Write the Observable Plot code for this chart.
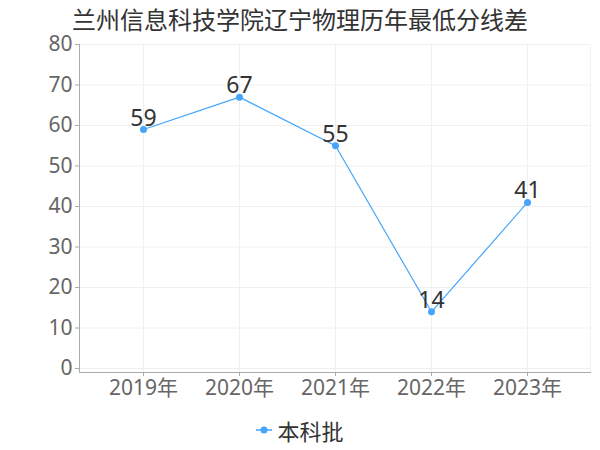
<!DOCTYPE html>
<html><head><meta charset="utf-8">
<script src="https://cdn.jsdelivr.net/npm/d3@7"></script>
<script src="https://cdn.jsdelivr.net/npm/@observablehq/plot@0.6"></script>
<style>
body{margin:0;background:#fff;font-family:"Noto Sans","Noto Sans CJK SC",sans-serif;}
#title{height:30px;line-height:40px;padding-left:72px;font-size:24px;color:#333;white-space:nowrap;}
#legend{height:40px;display:flex;justify-content:center;align-items:center;font-size:22px;color:#333;}
#legend svg{margin-right:5px;}
</style></head><body>
<div id="title">兰州信息科技学院辽宁物理历年最低分线差</div>
<div id="chart"></div>
<div id="legend"></div>
<script>
const years = ["2019年","2020年","2021年","2022年","2023年"];
const scores = [59, 67, 55, 14, 41];
const seriesName = "本科批";
const yTicks = [0,10,20,30,40,50,60,70,80];
const color = "#45a5fa";

const data = years.map((y,i)=>({year:y, value:scores[i]}));

const plot = Plot.plot({
  width: 600, height: 380,
  marginLeft: 79, marginRight: 10, marginTop: 14, marginBottom: 38,
  style:{fontFamily:'"Noto Sans","Noto Sans CJK SC",sans-serif', background:"#fff", overflow:"visible"},
  x:{type:"point", domain:years, padding:0.648, label:null},
  y:{domain:[0,80], insetBottom:4, label:null},
  marks:[
    Plot.frame({stroke:"#f2f2f2"}),
    Plot.gridY(yTicks, {stroke:"#f0f0f0", strokeOpacity:1}),
    Plot.gridX(years, {stroke:"#f0f0f0", strokeOpacity:1}),
    Plot.frame({anchor:"left", stroke:"#aaa"}),
    Plot.frame({anchor:"bottom", stroke:"#aaa"}),
    Plot.axisY(yTicks, {tickSize:4, tickPadding:3, fontSize:21, color:"#666", stroke:"#aaa"}),
    Plot.axisX(years, {tickSize:4, tickPadding:4, fontSize:21, color:"#666", stroke:"#aaa"}),
    Plot.line(data, {x:"year", y:"value", stroke:color, strokeWidth:1.2}),
    Plot.dot(data, {x:"year", y:"value", fill:color, r:3.5}),
    Plot.text(data, {x:"year", y:"value", text:d=>String(d.value), dy:-4, lineAnchor:"bottom", fontSize:23, fill:"#333"})
  ]
});
document.getElementById("chart").appendChild(plot);

const lg = document.getElementById("legend");
lg.innerHTML = `<svg width="16" height="10"><line x1="0" y1="5" x2="16" y2="5" stroke="${color}" stroke-width="1.5"/><circle cx="8" cy="5" r="3.5" fill="${color}"/></svg><span>${seriesName}</span>`;
</script>
</body></html>
